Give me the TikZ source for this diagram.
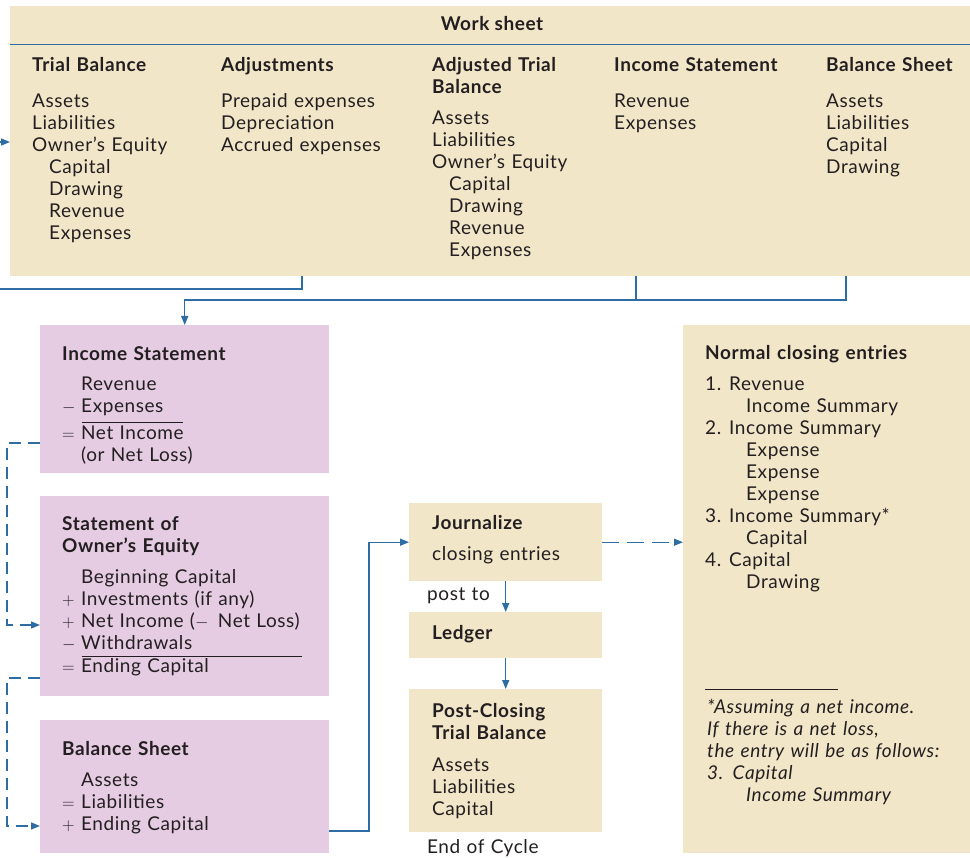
\documentclass[tikz,border=0pt]{standalone}
\usepackage{fontspec}
\setmainfont{Lato}[LetterSpace=3]
\usetikzlibrary{arrows.meta, positioning}
\definecolor{sheetbeige}{RGB}{242,230,201}
\definecolor{stmtpink}{RGB}{229,204,227}
\definecolor{flowblue}{RGB}{46,109,164}
\definecolor{inkgray}{RGB}{35,31,32}
\newcommand{\ind}{\hspace*{17pt}}
\newcommand{\opsym}[1]{\makebox[19pt][l]{#1}}
\newcommand{\numsym}[1]{\makebox[24pt][l]{#1}}

\begin{document}
\begin{tikzpicture}[
      x=1pt, y=-1pt,
      font=\fontsize{19}{22}\selectfont,
      >={Triangle[length=9pt, width=7pt]},
      box/.style={anchor=north west, inner sep=0pt, draw=none},
      sheet/.style={box, fill=sheetbeige},
      stmt/.style={box, fill=stmtpink, minimum width=289, text width=0pt},
      txt/.style={anchor=base west, inner sep=0pt, text width=260pt, align=left, text=inkgray},
      head/.style={txt, font=\fontsize{19}{22}\selectfont\bfseries},
      link/.style={line width=1.3pt, draw=flowblue},
      flow/.style={->, link},
      dflow/.style={flow, dash pattern=on 12pt off 7pt}
  ]
  \useasboundingbox (0,0) rectangle (970,858);

  % Boxes
  \node[sheet, minimum width=960, minimum height=270] (ws) at (10,6) {};
  \node[stmt, minimum height=148] (is) at (40,325) {};
  \node[stmt, minimum height=200] (soe) at (40,496) {};
  \node[stmt, minimum height=133] (bs) at (40,720) {};
  \node[sheet, minimum width=193, minimum height=78] (jn) at (409,503) {};
  \node[sheet, minimum width=193, minimum height=46] (lg) at (409,612) {};
  \node[sheet, minimum width=193, minimum height=143] (pc) at (409,689) {};
  \node[sheet, minimum width=287, minimum height=528] (nce) at (683,325) {};

  % Work sheet
  \draw[flowblue, line width=0.8pt] (ws.north west |- 0,44) -- (ws.north east |- 0,44);
  \node[head, anchor=base, text width=] (wsTitle) at (492,31) {Work sheet};
  \node[txt] (tbCol) at (32,72) {\textbf{Trial Balance}\\[14pt]
    Assets\\Liabilities\\Owner’s Equity\\\ind Capital\\\ind Drawing\\\ind Revenue\\\ind Expenses};
  \node[txt] (adjCol) at (221,72) {\textbf{Adjustments}\\[14pt]
    Prepaid expenses\\Depreciation\\Accrued expenses};
  \node[txt] (atbCol) at (432,72) {\textbf{Adjusted Trial}\\\textbf{Balance}\\[9pt]
    Assets\\Liabilities\\Owner’s Equity\\\ind Capital\\\ind Drawing\\\ind Revenue\\\ind Expenses};
  \node[txt] (isCol) at (614,72) {\textbf{Income Statement}\\[14pt]
    Revenue\\Expenses};
  \node[txt] (bsCol) at (826,72) {\textbf{Balance Sheet}\\[14pt]
    Assets\\Liabilities\\Capital\\Drawing};

  % Statements
  \node[txt] (isText) at (62,361) {\textbf{Income Statement}\\[8pt]
    \opsym{}Revenue\\\opsym{$-$}Expenses\\[5pt]\opsym{$=$}Net Income\\\opsym{}(or Net Loss)};
  \draw[inkgray, line width=0.8pt] (82,422) -- (183,422);
  \node[txt] (soeText) at (62,531) {\textbf{Statement of}\\\textbf{Owner’s Equity}\\[9pt]
    \opsym{}Beginning Capital\\\opsym{$+$}Investments (if any)\\\opsym{$+$}Net Income ($-$\, Net Loss)\\
    \opsym{$-$}Withdrawals\\[1pt]\opsym{$=$}Ending Capital};
  \draw[inkgray, line width=0.8pt] (82,656) -- (302,656);
  \node[txt] (bsText) at (62,755) {\textbf{Balance Sheet}\\[9pt]
    \opsym{}Assets\\\opsym{$=$}Liabilities\\\opsym{$+$}Ending Capital};

  % Closing
  \node[txt] (jnText) at (432,530) {\textbf{Journalize}\\[9pt]closing entries};
  \node[txt] (lgText) at (432,639) {\textbf{Ledger}};
  \node[txt] (pcText) at (432,717) {\textbf{Post-Closing}\\\textbf{Trial Balance}\\[10pt]
    Assets\\Liabilities\\Capital};
  \node[txt] (postTo) at (427,600) {post to};
  \node[txt] (endCycle) at (427,853) {End of Cycle};
  \node[txt] (nceText) at (705,360) {\textbf{Normal closing entries}\\[9pt]
    \numsym{1.}Revenue\\\hspace*{41pt}Income Summary\\
    \numsym{2.}Income Summary\\\hspace*{41pt}Expense\\\hspace*{41pt}Expense\\\hspace*{41pt}Expense\\
    \numsym{3.}Income Summary*\\\hspace*{41pt}Capital\\
    \numsym{4.}Capital\\\hspace*{41pt}Drawing};
  \draw[inkgray, line width=0.8pt] (705,689) -- (838,689);
  \node[txt, font=\fontsize{19}{22}\selectfont\itshape] (noteText) at (707,713) {*Assuming a net income.\\
    If there is a net loss,\\the entry will be as follows:\\3. Capital\\\hspace*{39pt}Income Summary};

  % Arrows
  \coordinate (inTB) at (0,142);
  \coordinate (outTB) at (0,289);
  \draw[flow] (inTB) -- (inTB -| ws.west);
  \draw[link] (302,276) |- (outTB);
  \draw[link] (636,276) -- (636,300);
  \draw[flow] (846,276) |- (is.north |- 0,300) -- (is.north);
  \draw[dflow] (0,443 -| is.west) -- (7,443) |- (0,625 -| soe.west);
  \draw[dflow] (0,678 -| soe.west) -- (7,678) |- (0,826 -| bs.west);
  \draw[flow] (0,831 -| bs.east) -- (369,831) |- (jn.west);
  \draw[dflow, dash pattern=on 17pt off 8pt] (jn.east) -- (jn.east -| nce.west);
  \draw[flow] (jn.south) -- (lg.north);
  \draw[flow] (lg.south) -- (pc.north);

  \end{tikzpicture}
\end{document}
